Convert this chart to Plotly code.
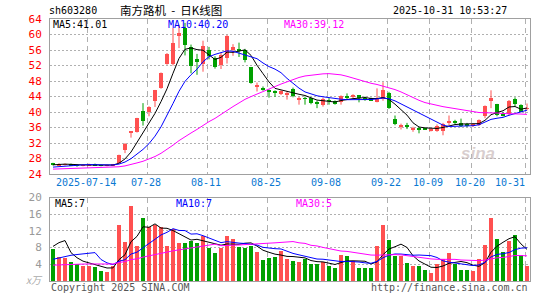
import plotly.graph_objects as go

# ---------------- data ----------------
opens  = [26.7,26.3,26.4,26.6,26.3,26.1,26.2,26.6,26.3,26.1,26.2,26.9,30.2,34.6,34.9,40.2,40.0,42.9,46.3,52.4,
          52.4,59.6,61.6,56.8,53.6,52.4,55.9,54.0,52.2,54.0,55.9,56.3,56.0,51.5,46.7,46.3,45.6,45.4,44.9,44.6,
          45.9,43.2,43.6,43.5,42.4,41.9,43.1,42.8,42.5,44.0,44.0,44.3,43.7,43.5,42.7,43.3,45.0,38.3,36.2,36.4,
          35.5,35.8,35.9,35.2,35.2,35.2,37.2,37.6,37.2,37.0,36.3,36.6,38.9,43.0,42.0,39.6,39.4,43.3,41.9,40.8]
highs  = [26.9,26.8,26.7,26.7,26.5,26.5,26.7,26.7,26.4,26.4,26.6,29.0,32.0,35.0,38.5,42.3,41.5,45.7,50.2,55.2,
          61.7,62.5,63.0,57.4,55.0,58.4,56.8,54.4,55.3,59.9,57.5,57.9,56.3,51.6,47.6,46.6,45.8,45.6,45.6,45.4,
          46.3,43.9,44.0,43.7,42.9,43.7,43.6,43.0,44.3,44.8,44.6,44.4,44.0,43.7,46.1,47.7,45.2,39.1,37.0,37.2,
          36.2,36.1,36.0,35.8,36.8,37.2,39.1,38.0,38.3,37.2,37.1,38.1,41.7,45.6,42.1,40.0,43.1,43.8,42.0,42.2]
lows   = [26.2,26.1,26.2,26.1,25.9,26.0,26.1,26.2,26.0,26.0,26.1,26.7,29.4,33.4,34.7,36.5,38.9,41.3,46.0,52.2,
          52.0,56.5,54.6,50.0,49.6,50.4,53.6,51.2,51.1,52.5,54.5,54.2,52.8,47.3,45.3,45.5,43.7,43.9,44.4,43.2,
          43.8,41.9,41.9,42.0,41.0,41.4,41.9,41.9,41.9,43.3,43.6,42.5,42.9,42.9,42.5,42.9,40.8,36.6,35.5,35.6,
          34.9,34.5,35.4,35.0,34.9,34.0,36.6,36.8,36.1,36.1,36.1,36.4,38.4,41.0,38.9,38.9,39.1,41.4,40.0,40.4]
closes = [26.4,26.6,26.5,26.3,26.1,26.3,26.5,26.3,26.1,26.2,26.5,28.9,31.8,34.98,38.48,37.8,41.4,45.6,50.1,55.1,
          57.8,60.5,57.4,51.9,52.9,57.0,54.5,51.5,54.6,59.7,56.7,55.9,53.3,47.5,46.9,45.9,45.2,45.0,45.4,45.0,
          44.1,43.4,43.4,42.3,42.2,43.3,42.9,42.2,44.2,43.8,44.2,43.5,43.0,43.0,43.7,45.6,41.0,36.8,36.4,36.2,
          35.7,35.6,35.6,35.6,36.3,37.0,37.5,37.4,36.3,36.4,37.0,38.0,41.6,43.5,39.3,39.2,42.9,42.2,40.0,41.0]
volumes = [7.8,5.8,5.6,4.6,4.1,3.7,3.7,3.5,2.5,2.2,3.8,13.6,9.4,18.1,8.6,15.3,13.0,13.5,13.0,8.4,
           12.6,9.3,9.1,9.7,9.3,10.8,8.0,6.8,8.0,10.8,10.2,8.2,8.1,8.4,7.0,5.2,5.7,5.9,7.3,5.4,
           5.0,4.7,5.3,4.1,4.1,4.7,3.6,3.3,6.4,6.0,4.9,3.1,3.3,3.1,8.5,13.5,9.9,6.1,6.2,4.5,
           3.6,3.6,2.7,2.1,4.2,5.4,6.8,4.2,2.8,2.8,2.4,5.4,8.7,15.1,10.1,7.1,9.7,11.1,6.4,3.6]
# history before the visible window (used only for moving averages)
prior_closes = [24.8,24.9,25.0,24.9,24.8,24.9,25.0,25.1,25.0,24.9,25.0,25.1,25.2,25.1,25.0,25.1,25.2,25.1,25.0,25.2,
                25.1,25.0,25.2,25.3,25.4,25.9,26.3,26.6,26.7]
prior_volumes = [3.5,3.0,2.8,3.2,3.6,3.0,2.9,3.1,3.3,3.0,2.7,3.2,3.4,3.1,2.9,3.0,3.2,3.3,2.9,3.0,
                 2.2,2.0,2.1,2.3,1.9,1.3,3.1,19.1,10.2]
tick_index = [6, 16, 26, 36, 46, 56, 63, 70, 79]
tick_labels = ["2025-07-14", "07-28", "08-11", "08-25", "09-08", "09-22", "10-09", "10-20", "10-31"]
price_ticks = [24, 28, 32, 36, 40, 44, 48, 52, 56, 60, 64]
vol_ticks = [4, 8, 12, 16, 20]

# ---------------- helpers ----------------
N = len(closes)
xs = list(range(N))
UP, DOWN = "#ff5050", "#00a000"
MONO = "DejaVu Sans Mono"


def moving_avg(prior, series, n):
    full = prior + series
    out = []
    for k in range(len(prior), len(full)):
        win = full[k - n + 1:k + 1]
        out.append(sum(win) / len(win))
    return out


up = [c >= o for o, c in zip(opens, closes)]
colors = [UP if u else DOWN for u in up]
body_base = [min(o, c) for o, c in zip(opens, closes)]
body_h = [max(abs(c - o), 0.12) for o, c in zip(opens, closes)]

fig = go.Figure()

# wicks
for flag, col in ((True, UP), (False, DOWN)):
    wx, wy = [], []
    for i in range(N):
        if up[i] == flag:
            wx += [i, i, None]
            wy += [lows[i], highs[i], None]
    fig.add_trace(go.Scatter(x=wx, y=wy, mode="lines", line=dict(color=col, width=1),
                             xaxis="x", yaxis="y", showlegend=False, hoverinfo="skip"))
# bodies
fig.add_trace(go.Bar(x=xs, y=body_h, base=body_base, width=0.8, marker=dict(color=colors, line=dict(width=0)),
                     xaxis="x", yaxis="y", showlegend=False))

ma_cols = {5: "#000000", 10: "#0000ff", 30: "#ff00ff"}
for n, col in ma_cols.items():
    fig.add_trace(go.Scatter(x=xs, y=moving_avg(prior_closes, closes, n), mode="lines",
                             line=dict(color=col, width=1), xaxis="x", yaxis="y", showlegend=False))

# volume
fig.add_trace(go.Bar(x=xs, y=volumes, width=0.8, marker=dict(color=colors, line=dict(width=0)),
                     xaxis="x2", yaxis="y2", showlegend=False))
for n, col in ma_cols.items():
    fig.add_trace(go.Scatter(x=xs, y=moving_avg(prior_volumes, volumes, n), mode="lines",
                             line=dict(color=col, width=1), xaxis="x2", yaxis="y2", showlegend=False))

L, R, T, B = 50, 530, 19, 286
W, H = 545, 300


def px(xp):
    return (xp - L) / (R - L)


def py(yp):
    return (B - yp) / (B - T)


main_dom = [py(177), 1]
vol_dom = [0, py(201)]
grid_v = [i - 0.33 for i in tick_index]

xcommon = dict(range=[-0.5, N - 0.5], showticklabels=False, tickmode="array", tickvals=grid_v,
               showgrid=True, gridcolor="#b0b0b0", gridwidth=1, griddash="5px,4px", zeroline=False,
               showline=True, linecolor="#a0a0a0", linewidth=1, mirror=True, ticks="", fixedrange=True)

fig.update_layout(
    width=W, height=H,
    margin=dict(l=L, r=W - R, t=T, b=H - B),
    paper_bgcolor="white", plot_bgcolor="white",
    bargap=0, showlegend=False, hovermode=False,
    xaxis=dict(domain=[0, 1], anchor="y", **xcommon),
    xaxis2=dict(domain=[0, 1], anchor="y2", matches="x", **xcommon),
    yaxis=dict(domain=main_dom, range=[24, 64], tickmode="array", tickvals=price_ticks,
               ticktext=[str(v) for v in price_ticks], showgrid=True, gridcolor="#b0b0b0", griddash="2px,2px",
               zeroline=False, showline=True, linecolor="#a0a0a0", mirror=True, ticks="",
               ticklabelstandoff=5, tickfont=dict(family=MONO, size=11, color="#ff0000")),
    yaxis2=dict(domain=vol_dom, range=[0, 20], tickmode="array", tickvals=vol_ticks,
                ticktext=[str(v) for v in vol_ticks], showgrid=True, gridcolor="#b0b0b0", griddash="2px,2px",
                zeroline=False, showline=True, linecolor="#a0a0a0", mirror=True, ticks="",
                ticklabelstandoff=5, tickfont=dict(family=MONO, size=11, color="#999999")),
)

ann = []


def text(xp, yp, s, color="#000", size=10, anchor="left", family=MONO, **kw):
    ann.append(dict(x=px(xp), y=py(yp), xref="paper", yref="paper", text=s, showarrow=False,
                    xanchor=anchor, yanchor="middle", font=dict(family=family, size=size, color=color), **kw))


# header
text(47, 10, "sh603280", size=10)
text(171, 9.5, "南方路机&nbsp; -&nbsp; 日K线图", size=11.5, anchor="center", family="Noto Sans CJK SC")
text(509, 10, "2025-10-31 10:53:27", size=10, anchor="right")
# MA labels main
text(51, 25, "MA5:41.01", size=10)
text(166, 25, "MA10:40.20", size=10, color="#0000ff")
text(282, 25, "MA30:39.12", size=10, color="#ff00ff")
# MA labels volume
text(53, 207, "MA5:7", size=10)
text(174, 207, "MA10:7", size=10, color="#0000ff")
text(294, 207, "MA30:5", size=10, color="#ff00ff")
# footer
text(49, 293, "Copyright 2025 SINA.COM", size=10, color="#555555")
text(530, 293, "http://finance.sina.com.cn", size=10, color="#555555", anchor="right")
text(45, 284, "<i>x万</i>", size=10, color="#aaaaaa", anchor="right", family="Noto Sans CJK SC")
# watermark
text(478, 156, "<b><i>sina</i></b>", size=17, color="rgba(200,185,185,0.7)", anchor="center", family="Liberation Sans")

# date labels under main panel
for i, (idx, lab) in enumerate(zip(tick_index, tick_labels)):
    shift = -15 if i == len(tick_index) - 1 else -1
    ann.append(dict(x=idx - 0.33, y=py(186), xref="x", yref="paper", text=lab, showarrow=False,
                    xanchor="center", yanchor="middle", xshift=shift,
                    font=dict(family=MONO, size=10, color="#0a78d2")))

fig.update_layout(annotations=ann)
fig.write_html("out.html")
